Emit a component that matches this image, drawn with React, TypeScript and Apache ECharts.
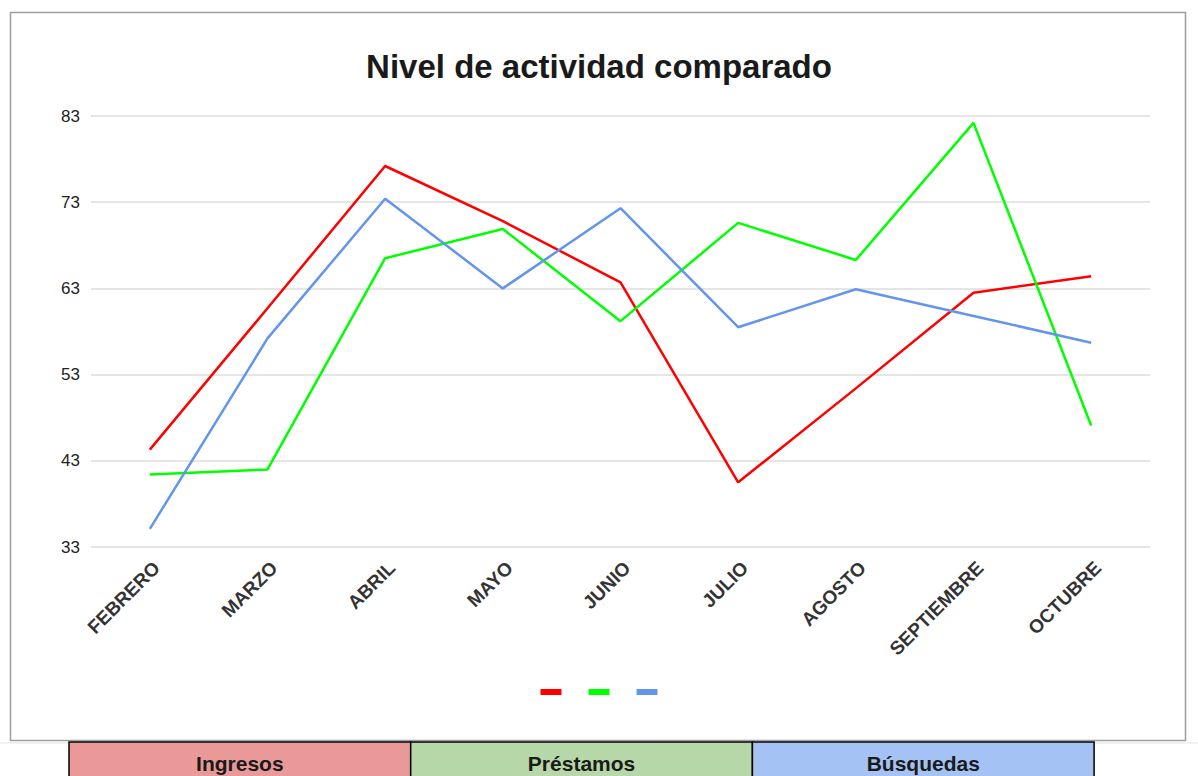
import React, { useEffect, useRef } from "react";
import * as echarts from "echarts";

const categories = ["FEBRERO", "MARZO", "ABRIL", "MAYO", "JUNIO", "JULIO", "AGOSTO", "SEPTIEMBRE", "OCTUBRE"];
const seriesNames = ["Ingresos", "Préstamos", "Búsquedas"];
const ingresos = [44.3, 60.7, 77.2, 70.8, 63.7, 40.5, 51.4, 62.5, 64.4];
const prestamos = [41.4, 42.0, 66.5, 69.9, 59.2, 70.6, 66.3, 82.2, 47.1];
const busquedas = [35.1, 57.2, 73.4, 63.0, 72.3, 58.5, 62.9, 59.8, 56.7];
const yTicks = [33, 43, 53, 63, 73, 83];
const lineColors = ["#ff0000", "#00ff00", "#6495ed"];
const tableColors = ["#ea9999", "#b6d7a8", "#a4c2f4"];

const FONT = "'Liberation Sans', Arial, sans-serif";

export default function App() {
  const ref = useRef<HTMLDivElement>(null);
  useEffect(() => {
    if (!ref.current) return;
    const chart = echarts.init(ref.current, undefined, { renderer: "svg" });
    const values = [ingresos, prestamos, busquedas];

    const tableLeft = 69;
    const cellW = 341.7;
    const tableTop = 742;
    const tableEls: any[] = [];
    seriesNames.forEach((name, i) => {
      tableEls.push({
        type: "rect",
        shape: { x: tableLeft + i * cellW, y: tableTop, width: cellW, height: 50 },
        style: { fill: tableColors[i], stroke: "#000", lineWidth: 1.5 },
        z: 10,
      });
      tableEls.push({
        type: "text",
        x: tableLeft + i * cellW + cellW / 2,
        y: 763,
        style: {
          text: name,
          fill: "#1a1a1a",
          font: `bold 21px ${FONT}`,
          textAlign: "center",
          textVerticalAlign: "middle",
        },
        z: 11,
      });
    });

    chart.setOption({
      animation: false,
      backgroundColor: "#ffffff",
      textStyle: { fontFamily: FONT },
      title: {
        text: "Nivel de actividad comparado",
        left: "center",
        top: 45,
        textStyle: { fontSize: 33, fontWeight: "bold", color: "#1a1a1a", fontFamily: FONT },
      },
      color: lineColors,
      legend: {
        show: true,
        bottom: 776 - 700,
        left: "center",
        icon: "rect",
        itemWidth: 21,
        itemHeight: 6,
        itemGap: 27,
        formatter: () => "",
        data: seriesNames,
        selectedMode: false,
      },
      grid: { left: 91, right: 48, top: 116, bottom: 229, containLabel: false },
      xAxis: {
        type: "category",
        data: categories,
        boundaryGap: true,
        axisLine: { show: false },
        axisTick: { show: false },
        axisLabel: {
          rotate: 45,
          interval: 0,
          margin: 11,
          fontSize: 19,
          fontWeight: "bold",
          color: "#333",
          fontFamily: FONT,
          verticalAlign: "top",
        },
      },
      yAxis: {
        type: "value",
        min: 33,
        max: 83,
        axisLine: { show: false },
        axisTick: { show: false, customValues: yTicks },
        axisLabel: { customValues: yTicks, fontSize: 17, color: "#222", margin: 11, fontFamily: FONT },
        splitLine: { show: true, lineStyle: { color: "#dcdcdc", width: 1.5 } },
      },
      series: seriesNames.map((name, i) => ({
        name,
        type: "line",
        data: values[i],
        symbol: "none",
        lineStyle: { width: 2.5, color: lineColors[i] },
        itemStyle: { color: lineColors[i] },
      })),
      graphic: [
        {
          type: "rect",
          shape: { x: 10.5, y: 12.5, width: 1175, height: 728 },
          style: { fill: "none", stroke: "#9e9e9e", lineWidth: 1.5 },
          silent: true,
        },
        {
          type: "line",
          shape: { x1: 0, y1: 743, x2: 1198, y2: 743 },
          style: { stroke: "#e3e3e3", lineWidth: 1 },
          silent: true,
        },
        ...tableEls,
      ],
    });
    return () => chart.dispose();
  }, []);
  return (
    <div
      ref={ref}
      style={{ position: "fixed", left: 0, top: 0, width: 1198, height: 776, background: "#fff" }}
    />
  );
}
